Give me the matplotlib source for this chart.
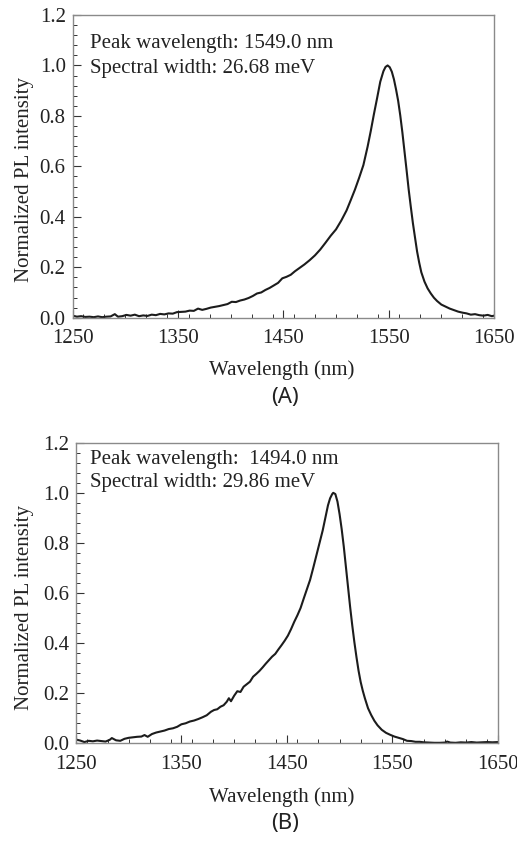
import matplotlib
matplotlib.use("Agg")
import matplotlib.pyplot as plt
from matplotlib.ticker import MultipleLocator

# ---- Panel A data ----
wl_a = [1250, 1254, 1258, 1262, 1266, 1270, 1274, 1278, 1282, 1286, 1290, 1293,
        1297, 1301, 1305, 1309, 1313, 1317, 1321, 1325, 1329, 1333, 1337, 1341,
        1345, 1349, 1353, 1357, 1361, 1365, 1369, 1373, 1377, 1381, 1385, 1389,
        1393, 1397, 1401, 1405, 1409, 1413, 1417, 1421, 1425, 1429, 1433, 1437,
        1441, 1445, 1449, 1453, 1457, 1461, 1465, 1470, 1475, 1480, 1485, 1490,
        1495, 1500, 1505, 1510, 1514, 1518, 1522, 1526, 1530, 1533, 1536, 1539,
        1542, 1545, 1547, 1549, 1551, 1553, 1555, 1557, 1559, 1561, 1563, 1565,
        1567, 1569, 1571, 1573, 1575, 1577, 1579, 1581, 1584, 1587, 1590, 1593,
        1596, 1600, 1604, 1608, 1612, 1616, 1620, 1624, 1628, 1632, 1636, 1640,
        1644, 1648, 1650]
pl_a = [0.008, 0.004, 0.006, 0.003, 0.004, 0.002, 0.005, 0.002, 0.004, 0.005, 0.014, 0.004,
        0.006, 0.011, 0.008, 0.012, 0.006, 0.009, 0.007, 0.012, 0.010, 0.015, 0.013, 0.017,
        0.016, 0.022, 0.023, 0.024, 0.028, 0.027, 0.036, 0.031, 0.035, 0.040, 0.043, 0.046,
        0.050, 0.054, 0.063, 0.062, 0.068, 0.072, 0.078, 0.086, 0.096, 0.100, 0.110, 0.118,
        0.128, 0.138, 0.156, 0.162, 0.170, 0.184, 0.196, 0.211, 0.228, 0.247, 0.270, 0.297,
        0.325, 0.350, 0.385, 0.425, 0.466, 0.508, 0.555, 0.605, 0.678, 0.740, 0.807, 0.870,
        0.935, 0.977, 0.994, 1.000, 0.993, 0.975, 0.945, 0.905, 0.860, 0.802, 0.735, 0.660,
        0.585, 0.508, 0.440, 0.375, 0.318, 0.262, 0.218, 0.180, 0.143, 0.116, 0.096, 0.079,
        0.066, 0.052, 0.044, 0.036, 0.030, 0.024, 0.020, 0.017, 0.012, 0.014, 0.010, 0.008,
        0.011, 0.006, 0.008]

# ---- Panel B data ----
wl_b = [1250, 1254, 1258, 1262, 1266, 1270, 1274, 1278, 1282, 1284, 1288, 1292,
        1296, 1300, 1304, 1308, 1312, 1315, 1318, 1322, 1326, 1330, 1334, 1338,
        1342, 1346, 1350, 1354, 1358, 1362, 1366, 1370, 1374, 1378, 1381, 1384,
        1387, 1390, 1393, 1395, 1397, 1400, 1403, 1406, 1409, 1412, 1415, 1418,
        1421, 1424, 1427, 1430, 1433, 1436, 1439, 1442, 1445, 1448, 1451, 1454,
        1457, 1460, 1463, 1466, 1469, 1472, 1475, 1478, 1481, 1484, 1487, 1489,
        1491, 1493, 1494, 1496, 1498, 1500, 1502, 1504, 1506, 1508, 1510, 1512,
        1514, 1516, 1518, 1520, 1522, 1524, 1527, 1530, 1533, 1536, 1540, 1544,
        1548, 1552, 1556, 1560, 1564, 1568, 1572, 1576, 1580, 1585, 1590, 1595,
        1600, 1602, 1605, 1610, 1615, 1620, 1625, 1630, 1635, 1640, 1645, 1650]
pl_b = [0.015, 0.011, 0.005, 0.010, 0.008, 0.011, 0.009, 0.007, 0.014, 0.021, 0.012, 0.010,
        0.018, 0.022, 0.024, 0.026, 0.027, 0.033, 0.026, 0.037, 0.043, 0.047, 0.051, 0.057,
        0.060, 0.066, 0.076, 0.080, 0.087, 0.091, 0.097, 0.104, 0.112, 0.126, 0.133, 0.136,
        0.146, 0.152, 0.166, 0.180, 0.168, 0.190, 0.208, 0.205, 0.226, 0.236, 0.246, 0.266,
        0.277, 0.289, 0.303, 0.318, 0.332, 0.346, 0.357, 0.375, 0.392, 0.410, 0.430, 0.456,
        0.485, 0.511, 0.540, 0.578, 0.615, 0.652, 0.700, 0.750, 0.800, 0.850, 0.910, 0.950,
        0.978, 0.995, 1.000, 0.995, 0.965, 0.915, 0.855, 0.785, 0.705, 0.625, 0.545, 0.472,
        0.405, 0.345, 0.290, 0.245, 0.210, 0.180, 0.140, 0.113, 0.090, 0.072, 0.054, 0.042,
        0.034, 0.027, 0.022, 0.017, 0.010, 0.009, 0.006, 0.006, 0.004, 0.003, 0.002, 0.002,
        0.003, 0.007, 0.003, 0.002, 0.004, 0.003, 0.005, 0.003, 0.004, 0.005, 0.004, 0.005]

x_ticks = [1250, 1350, 1450, 1550, 1650]
y_ticks = [0.0, 0.2, 0.4, 0.6, 0.8, 1.0, 1.2]
notes_a = ["Peak wavelength: 1549.0 nm", "Spectral width: 26.68 meV"]
notes_b = ["Peak wavelength:  1494.0 nm", "Spectral width: 29.86 meV"]

serif = "Liberation Serif"
fs = 15

fig = plt.figure(figsize=(5.17, 8.42), dpi=100)

def make_panel(rect, wl, pl, notes, note_x, note_y, tag, tag_y, xlab_xy, ylab_xy):
    ax = fig.add_axes(rect)
    ax.plot(wl, pl, color="#1c1c1c", lw=1.5)
    ax.set_xlim(1250, 1650)
    ax.set_ylim(0, 1.2)
    ax.set_xticks(x_ticks)
    ax.set_yticks(y_ticks)
    ax.set_yticklabels([f"{v:.1f}" for v in y_ticks])
    ax.xaxis.set_minor_locator(MultipleLocator(20))
    ax.yaxis.set_minor_locator(MultipleLocator(0.04))
    ax.tick_params(which="both", direction="in", top=False, right=False,
                   color="#333333", labelsize=fs, labelcolor="#222222")
    ax.tick_params(which="major", length=6, width=0.8)
    ax.tick_params(which="minor", length=3, width=0.7)
    ax.tick_params(axis="x", pad=8.5)
    ax.tick_params(axis="y", pad=5)
    for lab in ax.get_xticklabels() + ax.get_yticklabels():
        lab.set_family(serif)
    for sp in ax.spines.values():
        sp.set_color("#8a8a8a")
        sp.set_linewidth(1.0)
    xl = ax.set_xlabel("Wavelength (nm)", family=serif, fontsize=fs, color="#222222")
    yl = ax.set_ylabel("Normalized PL intensity", family=serif, fontsize=fs, color="#222222")
    ax.xaxis.set_label_coords(*xlab_xy)
    ax.yaxis.set_label_coords(*ylab_xy)
    xl.set_va("center")
    yl.set_va("center")
    for i, t in enumerate(notes):
        ax.text(note_x, note_y[i], t, transform=ax.transAxes, family=serif,
                fontsize=fs, color="#222222", va="center", ha="left")
    fig.text(0.551, tag_y, tag, family="Noto Sans", fontsize=16, color="#222222",
             ha="center", va="center")
    return ax

make_panel([0.1406, 0.6227, 0.8149, 0.3595], wl_a, pl_a, notes_a, 0.041,
           [0.905, 0.822], "(A)", 1 - 398 / 842, (0.497, -0.172), (-0.114, 0.455))
make_panel([0.1470, 0.1172, 0.8157, 0.3570], wl_b, pl_b, notes_b, 0.033,
           [0.945, 0.868], "(B)", 1 - 824 / 842, (0.488, -0.178), (-0.122, 0.453))

fig.savefig("out.png", dpi=100)
